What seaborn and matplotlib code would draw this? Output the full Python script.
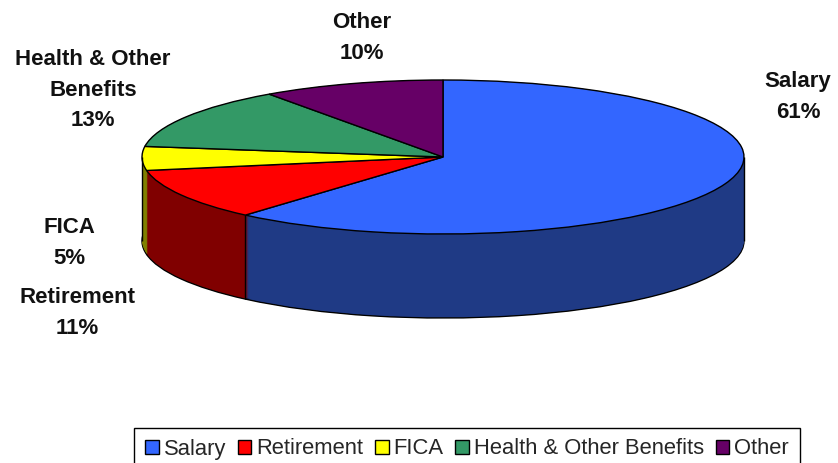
import numpy as np
import seaborn as sns
import matplotlib.pyplot as plt

categories = ['Salary', 'Retirement', 'FICA', 'Health & Other Benefits', 'Other']
values = [61.4, 10.8, 5.0, 13.0, 9.8]
top_colors = ['#3366FF', '#FF0000', '#FFFF00', '#339966', '#660066']
side_colors = ['#1F3A85', '#800000', '#808000', '#1A4D33', '#330033']

W, H = 838, 463
# ellipse of the pie in pixels
cx, cy, rx, ry = 443, 157, 301, 77
depth = 84

sns.set_theme(style='white')
plt.rcParams['font.family'] = ['Liberation Sans', 'DejaVu Sans']

fig = plt.figure(figsize=(W / 100, H / 100), dpi=100, facecolor='white')
ax = fig.add_axes([0, 0, 1, 1])

# side of the pie: same pie stacked downwards, bottom one has the outline
d_units = depth / ry
for i, off in enumerate(np.linspace(d_units, 0, depth + 1)):
    props = {'edgecolor': 'black', 'linewidth': 1.0} if i == 0 else {'linewidth': 0}
    ax.pie(values, colors=side_colors, center=(0, -off), radius=1, startangle=90,
           counterclock=False, wedgeprops=props)

wedges, _ = ax.pie(values, colors=top_colors, center=(0, 0), radius=1, startangle=90,
                   counterclock=False, wedgeprops={'edgecolor': 'black', 'linewidth': 1.0})

ax.set_aspect('auto')
ax.set_xlim(-cx / rx, (W - cx) / rx)
ax.set_ylim(-(H - cy) / ry, cy / ry)
ax.axis('off')

# vertical edges on the front side
ang = np.cumsum(values) / np.sum(values) * 2 * np.pi
bx, by = np.sin(ang[0]), np.cos(ang[0])
ax.vlines(bx, by - d_units, by, color='black', lw=1.0, zorder=5)
ax.vlines([-1, 1], -d_units, 0, color='black', lw=1.0, zorder=5)

# outside labels
label_pos = {
    'Salary': (798, 97),
    'Retirement': (77, 313),
    'FICA': (69, 243),
    'Health & Other Benefits': (93, 90),
    'Other': (362, 38),
}
for name, val in zip(categories, values):
    x, y = label_pos[name]
    txt = name.replace('Other Benefits', 'Other\nBenefits')
    fig.text(x / W, 1 - y / H, f'{txt}\n{round(val)}%', ha='center', va='center',
             fontsize=16, fontweight='bold', color='#111111', linespacing=1.6)

# box runs past the bottom of the picture, like the reference
leg = fig.legend(wedges, categories, ncol=5, loc='center', bbox_to_anchor=(467 / W, 1 - 449 / H),
                 frameon=True, fancybox=False, edgecolor='black', framealpha=1, fontsize=15.8,
                 handlelength=0.62, handleheight=0.62, handletextpad=0.22, columnspacing=0.54,
                 borderpad=0.5, borderaxespad=0)
leg.get_frame().set_linewidth(1.0)

plt.savefig('out.png', dpi=100)
